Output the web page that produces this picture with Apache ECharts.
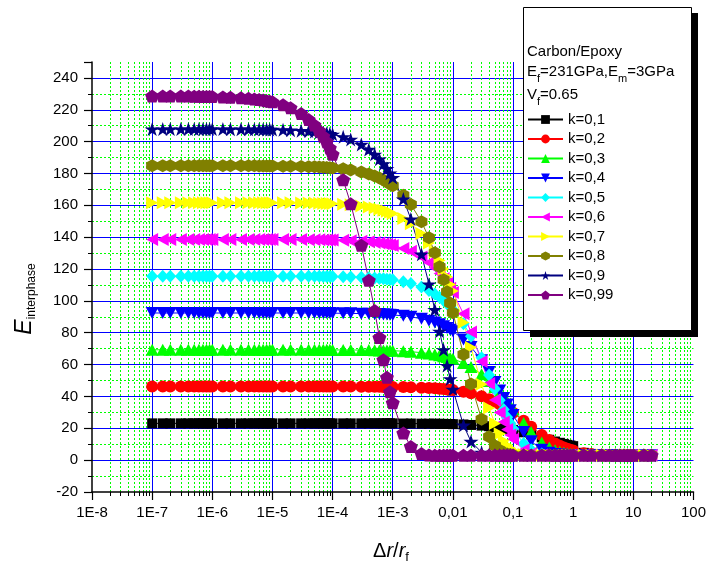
<!DOCTYPE html>
<html>
<head>
<meta charset="utf-8">
<script src="https://cdn.jsdelivr.net/npm/echarts@6/dist/echarts.min.js"></script>
<style>
  html, body { margin: 0; padding: 0; background: #ffffff; }
  #chart { width: 709px; height: 567px; }
</style>
</head>
<body>
<div id="chart"></div>
<script>
// Interphase modulus vs. relative interphase thickness, Carbon/Epoxy
const deltaR = [
  1e-7, 1.5e-7, 2e-7, 3e-7, 4e-7, 5e-7, 6e-7, 7e-7, 8e-7, 9e-7,
  1e-6, 1.5e-6, 2e-6, 3e-6, 4e-6, 5e-6, 6e-6, 7e-6, 8e-6, 9e-6,
  1e-5, 1.5e-5, 2e-5, 3e-5, 4e-5, 5e-5, 6e-5, 7e-5, 8e-5, 9e-5,
  1e-4, 1.5e-4, 2e-4, 3e-4, 4e-4, 5e-4, 6e-4, 7e-4, 8e-4, 9e-4,
  0.001, 0.0015, 0.002, 0.003, 0.004, 0.005, 0.006, 0.007, 0.008, 0.009,
  0.01, 0.015, 0.02, 0.03, 0.04, 0.05, 0.06, 0.07, 0.08, 0.09,
  0.1, 0.15, 0.2, 0.3, 0.4, 0.5, 0.6, 0.7, 0.8, 0.9,
  1, 1.5, 2, 3, 4, 5, 6, 7, 8, 9,
  10, 15, 20
];

const kLabels = ['k=0,1', 'k=0,2', 'k=0,3', 'k=0,4', 'k=0,5', 'k=0,6', 'k=0,7', 'k=0,8', 'k=0,9', 'k=0,99'];

const xTickLabels = ['1E-8', '1E-7', '1E-6', '1E-5', '1E-4', '1E-3', '0,01', '0,1', '1', '10', '100'];

const E_k01 = [
  23.1, 23.1, 23.1, 23.1, 23.1, 23.1, 23.1, 23.1, 23.1, 23.1,
  23.1, 23.1, 23.1, 23.1, 23.1, 23.1, 23.1, 23.1, 23.1, 23.1,
  23.1, 23.1, 23.1, 23.1, 23.1, 23.1, 23.1, 23.1, 23.1, 23.1,
  23.1, 23.1, 23.1, 23.1, 23.1, 23.1, 23.1, 23.1, 23.1, 23.1,
  23.1, 23.0, 23.0, 22.9, 22.9, 22.9, 22.8, 22.8, 22.7, 22.7,
  22.6, 22.4, 22.1, 21.7, 21.3, 20.8, 20.4, 20.1, 19.7, 19.3,
  19.0, 17.5, 16.2, 14.3, 12.8, 11.7, 10.9, 10.2, 9.6, 9.2,
  8.8, 4.6, 3.9, 3.5, 3.3, 3.2, 3.2, 3.1, 3.1, 3.1,
  3.0, 3.0, 3.0
];
const E_k02 = [
  46.2, 46.2, 46.2, 46.2, 46.2, 46.2, 46.2, 46.2, 46.2, 46.2,
  46.2, 46.2, 46.2, 46.2, 46.2, 46.2, 46.2, 46.2, 46.2, 46.2,
  46.2, 46.2, 46.2, 46.2, 46.2, 46.2, 46.2, 46.2, 46.2, 46.2,
  46.2, 46.2, 46.2, 46.1, 46.1, 46.1, 46.1, 46.0, 46.0, 46.0,
  46.0, 45.9, 45.7, 45.5, 45.3, 45.1, 44.9, 44.6, 44.4, 44.2,
  44.0, 43.0, 42.0, 40.1, 38.3, 36.6, 35.1, 33.6, 32.3, 31.0,
  29.8, 24.7, 21.0, 15.8, 12.6, 10.5, 9.0, 7.9, 7.2, 6.6,
  6.1, 4.3, 3.8, 3.4, 3.2, 3.1, 3.1, 3.0, 3.0, 3.0,
  3.0, 3.0, 3.0
];
const E_k03 = [
  69.3, 69.3, 69.3, 69.3, 69.3, 69.3, 69.3, 69.3, 69.3, 69.3,
  69.3, 69.3, 69.3, 69.3, 69.3, 69.3, 69.3, 69.3, 69.3, 69.3,
  69.3, 69.3, 69.3, 69.3, 69.3, 69.3, 69.3, 69.3, 69.3, 69.3,
  69.2, 69.2, 69.2, 69.1, 69.1, 69.0, 68.9, 68.9, 68.8, 68.8,
  68.7, 68.4, 68.1, 67.5, 66.9, 66.4, 65.8, 65.2, 64.7, 64.1,
  63.6, 61.0, 58.5, 53.9, 49.7, 46.0, 42.6, 39.6, 36.8, 34.3,
  32.0, 23.3, 17.6, 11.1, 7.9, 6.2, 5.2, 4.6, 4.2, 3.9,
  3.7, 3.3, 3.2, 3.1, 3.0, 3.0, 3.0, 3.0, 3.0, 3.0,
  3.0, 3.0, 3.0
];
const E_k04 = [
  92.4, 92.4, 92.4, 92.4, 92.4, 92.4, 92.4, 92.4, 92.4, 92.4,
  92.4, 92.4, 92.4, 92.4, 92.4, 92.4, 92.4, 92.4, 92.4, 92.4,
  92.4, 92.4, 92.4, 92.4, 92.4, 92.4, 92.4, 92.4, 92.4, 92.4,
  92.3, 92.2, 92.2, 92.0, 91.9, 91.8, 91.7, 91.5, 91.4, 91.3,
  91.2, 90.6, 90.0, 88.8, 87.6, 86.4, 85.3, 84.1, 83.0, 81.9,
  80.9, 75.8, 71.1, 62.7, 55.4, 49.1, 43.7, 39.0, 35.0, 31.4,
  28.3, 17.6, 11.8, 6.6, 4.7, 3.9, 3.5, 3.3, 3.2, 3.1,
  3.1, 3.0, 3.0, 3.0, 3.0, 3.0, 3.0, 3.0, 3.0, 3.0,
  3.0, 3.0, 3.0
];
const E_k05 = [
  115.5, 115.5, 115.5, 115.5, 115.5, 115.5, 115.5, 115.5, 115.5, 115.5,
  115.5, 115.5, 115.5, 115.5, 115.5, 115.5, 115.5, 115.5, 115.5, 115.5,
  115.5, 115.5, 115.5, 115.4, 115.4, 115.4, 115.4, 115.3, 115.3, 115.3,
  115.3, 115.1, 115.0, 114.8, 114.6, 114.3, 114.1, 113.9, 113.6, 113.4,
  113.2, 112.0, 110.9, 108.7, 106.5, 104.4, 102.3, 100.2, 98.2, 96.3,
  94.5, 85.7, 77.8, 64.3, 53.5, 44.7, 37.6, 31.8, 27.0, 23.1,
  19.9, 10.4, 6.5, 3.9, 3.3, 3.1, 3.0, 3.0, 3.0, 3.0,
  3.0, 3.0, 3.0, 3.0, 3.0, 3.0, 3.0, 3.0, 3.0, 3.0,
  3.0, 3.0, 3.0
];
const E_k06 = [
  138.6, 138.6, 138.6, 138.6, 138.6, 138.6, 138.6, 138.6, 138.6, 138.6,
  138.6, 138.6, 138.6, 138.6, 138.6, 138.6, 138.6, 138.6, 138.6, 138.6,
  138.6, 138.5, 138.5, 138.5, 138.4, 138.4, 138.4, 138.3, 138.3, 138.3,
  138.2, 138.0, 137.8, 137.4, 137.1, 136.7, 136.3, 135.9, 135.5, 135.2,
  134.8, 132.9, 131.1, 127.5, 124.0, 120.6, 117.2, 114.0, 110.9, 107.9,
  105.2, 91.9, 80.4, 62.0, 48.2, 37.8, 29.9, 23.9, 19.3, 15.8,
  13.1, 6.3, 4.2, 3.2, 3.0, 3.0, 3.0, 3.0, 3.0, 3.0,
  3.0, 3.0, 3.0, 3.0, 3.0, 3.0, 3.0, 3.0, 3.0, 3.0,
  3.0, 3.0, 3.0
];
const E_k07 = [
  161.7, 161.7, 161.7, 161.7, 161.7, 161.7, 161.7, 161.7, 161.7, 161.7,
  161.7, 161.7, 161.7, 161.7, 161.7, 161.7, 161.7, 161.7, 161.7, 161.7,
  161.6, 161.6, 161.6, 161.5, 161.4, 161.4, 161.3, 161.2, 161.1, 161.1,
  161.0, 160.7, 160.3, 159.6, 159.0, 158.3, 157.6, 156.9, 156.3, 155.6,
  154.9, 151.7, 148.5, 142.3, 136.4, 130.7, 125.3, 120.1, 115.1, 110.3,
  106.2, 86.5, 70.7, 47.7, 32.8, 23.0, 16.5, 12.2, 9.3, 7.4,
  6.0, 3.5, 3.1, 3.0, 3.0, 3.0, 3.0, 3.0, 3.0, 3.0,
  3.0, 3.0, 3.0, 3.0, 3.0, 3.0, 3.0, 3.0, 3.0, 3.0,
  3.0, 3.0, 3.0
];
const E_k08 = [
  184.8, 184.8, 184.8, 184.8, 184.8, 184.8, 184.8, 184.8, 184.8, 184.8,
  184.8, 184.8, 184.8, 184.8, 184.8, 184.8, 184.7, 184.7, 184.7, 184.7,
  184.7, 184.6, 184.5, 184.4, 184.3, 184.2, 184.0, 183.9, 183.8, 183.6,
  183.5, 182.9, 182.2, 180.9, 179.7, 178.4, 177.2, 175.9, 174.7, 173.5,
  172.3, 166.3, 160.6, 149.7, 139.6, 130.2, 121.4, 113.3, 105.7, 98.6,
  92.6, 66.3, 47.8, 25.7, 14.7, 9.1, 6.2, 4.7, 3.9, 3.5,
  3.3, 3.0, 3.0, 3.0, 3.0, 3.0, 3.0, 3.0, 3.0, 3.0,
  3.0, 3.0, 3.0, 3.0, 3.0, 3.0, 3.0, 3.0, 3.0, 3.0,
  3.0, 3.0, 3.0
];
const E_k09 = [
  207.9, 207.9, 207.9, 207.9, 207.9, 207.9, 207.9, 207.9, 207.9, 207.9,
  207.9, 207.9, 207.8, 207.8, 207.8, 207.7, 207.7, 207.7, 207.6, 207.6,
  207.6, 207.4, 207.2, 206.9, 206.6, 206.3, 205.9, 205.6, 205.3, 205.0,
  204.6, 203.0, 201.4, 198.2, 195.1, 192.0, 189.0, 186.0, 183.1, 180.2,
  177.4, 163.9, 151.4, 129.3, 110.5, 94.5, 80.9, 69.3, 59.4, 51.0,
  44.5, 21.9, 11.7, 4.9, 3.4, 3.1, 3.0, 3.0, 3.0, 3.0,
  3.0, 3.0, 3.0, 3.0, 3.0, 3.0, 3.0, 3.0, 3.0, 3.0,
  3.0, 3.0, 3.0, 3.0, 3.0, 3.0, 3.0, 3.0, 3.0, 3.0,
  3.0, 3.0, 3.0
];
const E_k099 = [
  228.7, 228.7, 228.7, 228.6, 228.6, 228.5, 228.5, 228.4, 228.4, 228.4,
  228.3, 228.1, 227.9, 227.6, 227.2, 226.8, 226.4, 226.1, 225.7, 225.3,
  225.0, 223.1, 221.2, 217.6, 213.9, 210.4, 206.9, 203.4, 199.9, 196.0,
  192.0, 176.0, 161.0, 135.0, 113.0, 94.0, 77.0, 63.0, 52.0, 43.0,
  36.0, 17.0, 8.5, 4.2, 3.3, 3.0, 3.0, 3.0, 3.0, 3.0,
  3.0, 3.0, 3.0, 3.0, 3.0, 3.0, 3.0, 3.0, 3.0, 3.0,
  3.0, 3.0, 3.0, 3.0, 3.0, 3.0, 3.0, 3.0, 3.0, 3.0,
  3.0, 3.0, 3.0, 3.0, 3.0, 3.0, 3.0, 3.0, 3.0, 3.0,
  3.0, 3.0, 3.0
];

const FONT = '"Liberation Sans", Arial, Helvetica, sans-serif';

// marker shapes (Origin-style symbol cycle)
const SYM_DOWN = 'path://M0,0L2,0L1,1.732Z';
const SYM_LEFT = 'path://M1.732,0L1.732,2L0,1Z';
const SYM_RIGHT = 'path://M0,0L1.732,1L0,2Z';
const SYM_HEX = 'path://M1,0L1.866,0.5L1.866,1.5L1,2L0.134,1.5L0.134,0.5Z';
const SYM_STAR = 'path://M1,0L1.2245,0.691L1.951,0.691L1.3633,1.118L1.588,1.809L1,1.382L0.412,1.809L0.6367,1.118L0.049,0.691L0.7755,0.691Z';
const SYM_PENT = 'path://M1,0L1.951,0.691L1.588,1.809L0.412,1.809L0.049,0.691Z';

const seriesStyle = [
  { values: E_k01,  color: '#000000', symbol: 'rect',     size: 10 },
  { values: E_k02,  color: '#ff0000', symbol: 'circle',   size: 12 },
  { values: E_k03,  color: '#00ff00', symbol: 'triangle', size: [13, 12] },
  { values: E_k04,  color: '#0000ff', symbol: SYM_DOWN,   size: [13, 12] },
  { values: E_k05,  color: '#00ffff', symbol: 'diamond',  size: [12, 13] },
  { values: E_k06,  color: '#ff00ff', symbol: SYM_LEFT,   size: [12, 13] },
  { values: E_k07,  color: '#ffff00', symbol: SYM_RIGHT,  size: [12, 13] },
  { values: E_k08,  color: '#808000', symbol: SYM_HEX,    size: [12, 13] },
  { values: E_k09,  color: '#000080', symbol: SYM_STAR,   size: [15, 14] },
  { values: E_k099, color: '#800080', symbol: SYM_PENT,   size: [14, 13] }
];

const series = seriesStyle.map((s, i) => ({
  name: kLabels[i],
  type: 'line',
  data: deltaR.map((x, j) => [x, s.values[j]]),
  symbol: s.symbol,
  symbolSize: s.size,
  showSymbol: true,
  showAllSymbol: true,
  lineStyle: { color: s.color, width: 1 },
  itemStyle: { color: s.color, borderWidth: 0 },
  emphasis: { disabled: true },
  z: 3
}));

const chart = echarts.init(document.getElementById('chart'), null, { renderer: 'canvas' });

const option = {
  animation: false,
  backgroundColor: '#ffffff',
  textStyle: { fontFamily: FONT },
  grid: { left: 92, right: 12, top: 62, bottom: 75, containLabel: false },
  xAxis: {
    type: 'log',
    logBase: 10,
    min: 1e-8,
    max: 100,
    interval: 1,
    splitNumber: 10,
    axisLine: { show: true, onZero: false, lineStyle: { color: '#000', width: 1.5 } },
    axisTick: { show: true, length: 8, lineStyle: { color: '#000', width: 1.2 } },
    minorTick: { show: true, splitNumber: 9, length: 4, lineStyle: { color: '#000', width: 1 } },
    axisLabel: {
      margin: 13, fontSize: 15, color: '#000', fontFamily: FONT,
      formatter: v => xTickLabels[Math.round(Math.log10(v)) + 8]
    },
    splitLine: { show: true, showMinLine: false, showMaxLine: false, lineStyle: { color: '#0000ff', width: 1 } },
    minorSplitLine: { show: true, lineStyle: { color: '#00ff00', width: 1, type: [2, 2] } }
  },
  yAxis: {
    type: 'value', min: -20, max: 250, interval: 20,
    axisLine: { show: true, onZero: false, lineStyle: { color: '#000', width: 1.5 } },
    axisTick: { show: true, length: 8, lineStyle: { color: '#000', width: 1.2 } },
    minorTick: { show: true, splitNumber: 2, length: 4, lineStyle: { color: '#000', width: 1 } },
    axisLabel: { margin: 14, fontSize: 15, color: '#000', fontFamily: FONT, showMaxLabel: false },
    splitLine: { show: true, showMinLine: false, showMaxLine: false, lineStyle: { color: '#0000ff', width: 1 } },
    minorSplitLine: { show: true, lineStyle: { color: '#00ff00', width: 1, type: [2, 2] } }
  },
  legend: {
    orient: 'vertical',
    left: 527,
    top: 112,
    padding: 0,
    itemWidth: 35,
    itemHeight: 11,
    itemGap: 4.5,
    z: 20,
    data: kLabels,
    selectedMode: false,
    textStyle: { fontSize: 15, fontFamily: FONT, color: '#000', lineHeight: 15 }
  },
  graphic: [
    { type: 'rect', z: 9, silent: true, shape: { x: 530, y: 13, width: 168, height: 324 }, style: { fill: '#000' } },
    { type: 'rect', z: 10, silent: true, shape: { x: 523.5, y: 7.5, width: 168, height: 323 }, style: { fill: '#fff', stroke: '#000', lineWidth: 1 } },
    {
      type: 'text', z: 11, silent: true, x: 527, y: 52,
      style: { text: 'Carbon/Epoxy', font: '15px ' + FONT, fill: '#000', align: 'left', verticalAlign: 'middle', textAlign: 'left', textVerticalAlign: 'middle' }
    },
    {
      type: 'text', z: 11, silent: true, x: 527, y: 72,
      style: {
        text: '{n|E}{s|f}{n|=231GPa,E}{s|m}{n|=3GPa}',
        align: 'left', verticalAlign: 'middle', textAlign: 'left', textVerticalAlign: 'middle',
        rich: {
          n: { fontSize: 15, fontFamily: FONT, fill: '#000', color: '#000', lineHeight: 24 },
          s: { fontSize: 11, fontFamily: FONT, fill: '#000', color: '#000', lineHeight: 9, verticalAlign: 'bottom' }
        }
      }
    },
    {
      type: 'text', z: 11, silent: true, x: 527, y: 95,
      style: {
        text: '{n|V}{s|f}{n|=0.65}',
        align: 'left', verticalAlign: 'middle', textAlign: 'left', textVerticalAlign: 'middle',
        rich: {
          n: { fontSize: 15, fontFamily: FONT, fill: '#000', color: '#000', lineHeight: 24 },
          s: { fontSize: 11, fontFamily: FONT, fill: '#000', color: '#000', lineHeight: 9, verticalAlign: 'bottom' }
        }
      }
    },
    {
      // y-axis title
      type: 'text', z: 11, silent: true, x: 25, y: 299, rotation: Math.PI / 2,
      style: {
        text: '{e|E}{s|interphase}',
        align: 'center', verticalAlign: 'middle', textAlign: 'center', textVerticalAlign: 'middle',
        rich: {
          e: { fontSize: 23, fontStyle: 'italic', fontFamily: FONT, fill: '#000', color: '#000', lineHeight: 26 },
          s: { fontSize: 12, fontFamily: FONT, fill: '#000', color: '#000', lineHeight: 10, verticalAlign: 'bottom' }
        }
      }
    },
    {
      // x-axis title
      type: 'text', z: 11, silent: true, x: 391, y: 551,
      style: {
        text: '{n|Δ}{i|r}{n|/}{i|r}{s|f}',
        align: 'center', verticalAlign: 'middle', textAlign: 'center', textVerticalAlign: 'middle',
        rich: {
          n: { fontSize: 20, fontFamily: FONT, fill: '#000', color: '#000', lineHeight: 26 },
          i: { fontSize: 20, fontStyle: 'italic', fontFamily: FONT, fill: '#000', color: '#000', lineHeight: 26 },
          s: { fontSize: 13, fontFamily: FONT, fill: '#000', color: '#000', lineHeight: 2, verticalAlign: 'bottom' }
        }
      }
    }
  ],
  series: series
};

chart.setOption(option);
</script>
</body>
</html>
